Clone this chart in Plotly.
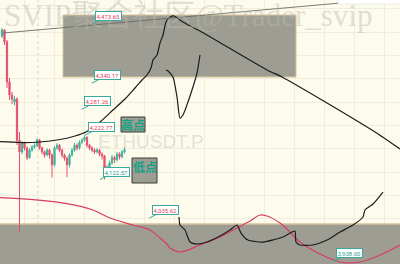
import plotly.graph_objects as go

# ---------------- data ----------------
bar_idx = list(range(50))
open_ = [4446.5, 4460.1, 4433.0, 4342.7, 4313.4, 4297.6, 4304.0, 4211.8,
         4184.7, 4205, 4194, 4172, 4189, 4196, 4199, 4212, 4194, 4185, 4178, 4189,
         4178, 4156, 4194, 4200, 4189, 4178, 4171, 4156, 4178, 4189, 4200, 4194,
         4207, 4212, 4218, 4200, 4194, 4189, 4185, 4189, 4180, 4176, 4150, 4140,
         4160, 4172, 4167, 4180, 4174, 4185]
high = [4464.6, 4462.3, 4437.5, 4351.7, 4320.1, 4311.0, 4308.0, 4229.8,
        4209, 4208, 4197, 4193, 4200, 4204, 4215, 4214, 4197, 4188, 4193, 4192,
        4181, 4198, 4205, 4203, 4192, 4181, 4174, 4182, 4194, 4205, 4204, 4211,
        4216, 4222.77, 4220, 4203, 4198, 4193, 4194, 4192, 4184, 4178, 4155, 4165,
        4178, 4176, 4185, 4184, 4189, 4195]
low = [4442.0, 4426.2, 4329.2, 4302.1, 4293.0, 4290.0, 4200.5, 4004.1,
       4180, 4188, 4166, 4169, 4185, 4192, 4196, 4190, 4180, 4172, 4175, 4170,
       4127, 4152, 4190, 4184, 4172, 4165, 4128, 4150, 4174, 4185, 4188, 4190,
       4203, 4208, 4195, 4189, 4184, 4180, 4182, 4175, 4168, 4122.57, 4130, 4136,
       4156, 4160, 4163, 4168, 4170, 4181]
close = [4460.1, 4433.0, 4342.7, 4313.4, 4304.3, 4304.3, 4211.8, 4184.7,
         4205, 4194, 4172, 4189, 4196, 4199, 4212, 4194, 4185, 4178, 4189, 4178,
         4156, 4194, 4200, 4189, 4178, 4171, 4156, 4178, 4189, 4200, 4194, 4207,
         4212, 4218, 4200, 4194, 4189, 4185, 4189, 4180, 4176, 4150, 4140, 4160,
         4172, 4167, 4180, 4174, 4185, 4190]

# drawn curves (bar index, price)
arc_x = [-0.8, 7.2, 15.2, 23.2, 29.2, 33.6, 39.2, 44.4, 49.2, 53.2, 56.0, 58.0, 59.6,
         60.4, 62.0, 63.2, 64.4, 65.6, 67.2, 68.8, 71.2, 75.2, 79.2, 106.0, 112.0,
         130.0, 149.2, 159.2]
arc_y = [4207.9, 4206.1, 4207.3, 4212.9, 4220.8, 4229.8, 4252.4, 4279.5, 4304.3,
         4329.2, 4347.2, 4358.5, 4374.3, 4392.4, 4403.6, 4430.7, 4448.8, 4478.1,
         4489.4, 4491.7, 4482.7, 4469.1, 4457.8, 4369.8, 4354.0, 4295.3, 4229.8, 4191.5]
dip_x = [65.6, 66.4, 68.4, 70.0, 71.2, 72.4, 74.4, 76.0, 78.0, 79.2]
dip_y = [4369.8, 4367.5, 4354.0, 4308.8, 4261.4, 4268.2, 4297.6, 4324.6, 4363.0, 4403.6]
low_x = [70.8, 71.2, 73.2, 75.2, 78.0, 82.0, 87.2, 91.2, 94.0, 95.6, 98.4, 104.4,
         112.4, 116.0, 117.2, 117.6, 119.2, 124.4, 130.0, 135.2, 140.4, 144.4, 145.2,
         148.4, 152.4]
low_y = [4038.0, 4019.9, 4008.6, 3981.5, 3977.0, 3981.5, 3995.1, 4008.6, 4019.9,
         4001.8, 3986.0, 3981.5, 3992.8, 4004.1, 4006.4, 3981.5, 3974.8, 3974.8,
         3986.0, 4004.1, 4019.9, 4038.0, 4053.8, 4067.3, 4094.4]
ma_x = [-0.8, 12.4, 26.0, 36.4, 43.2, 52.4, 59.2, 63.2, 66.0, 67.2, 71.2, 79.2, 87.2,
        94.0, 99.2, 103.2, 106.0, 111.2, 114.0, 119.2, 127.2, 135.2, 143.2, 151.2, 159.2]
ma_y = [4081.5, 4077.0, 4068.0, 4053.8, 4035.7, 4019.9, 4008.6, 3990.6, 3977.0,
        3968.0, 3959.0, 3974.8, 3992.8, 4013.1, 4028.9, 4042.5, 4040.2, 4024.4,
        4010.9, 3981.5, 3954.4, 3936.4, 3936.4, 3952.2, 3974.8]
trend_x = [0.4, 134.4]
trend_y = [4453.3, 4520.5]

# price labels
lbl_text = ["4,473.65", "4,340.17", "4,281.26", "4,222.77", "4,122.57", "4,035.62", "3,938.00"]
lbl_price = [4473.65, 4340.17, 4281.26, 4222.77, 4122.57, 4035.62, 3938.00]
lbl_bar = [36.0, 35.9, 31.9, 33.2, 39.2, 58.9, 132.5]
lbl_high = [True, True, True, True, False, True, False]

# zones (bar index / price)
zone_top = dict(x0=24.4, x1=117.6, y0=4354.0, y1=4493.9)
zone_bot = dict(x0=-5, x1=170, y0=4022.2, y1=3900)

X_RANGE = [-0.8, 159.2]
Y_RANGE = [3931.9, 4527.8]

UP = "#3DB39E"
DOWN = "#E3506E"
BG = "#FDFBEC"
BOX = "#9D9D93"

fig = go.Figure()

fig.add_trace(go.Candlestick(
    x=bar_idx, open=open_, high=high, low=low, close=close,
    increasing=dict(line=dict(color=UP, width=1), fillcolor=UP),
    decreasing=dict(line=dict(color=DOWN, width=1), fillcolor=DOWN),
    whiskerwidth=0, showlegend=False, hoverinfo="skip"))

fig.add_trace(go.Scatter(x=trend_x, y=trend_y, mode="lines",
                         line=dict(color="#6b6b66", width=0.9), showlegend=False))
fig.add_trace(go.Scatter(x=ma_x, y=ma_y, mode="lines",
                         line=dict(color="#D83D69", width=1.2, shape="spline"), showlegend=False))
for xs, ys in [(arc_x, arc_y), (dip_x, dip_y), (low_x, low_y)]:
    fig.add_trace(go.Scatter(x=xs, y=ys, mode="lines",
                             line=dict(color="#1c1c1c", width=1.2, shape="spline", smoothing=0.6),
                             showlegend=False))

shapes = [
    dict(type="rect", xref="x", yref="y", layer="between", fillcolor=BOX,
         line=dict(color="#D6C49A", width=1), **zone_top),
    dict(type="rect", xref="x", yref="y", layer="between", fillcolor=BOX,
         line=dict(color="#D6C49A", width=1.5), **zone_bot),
    dict(type="line", xref="x", yref="paper", x0=14.4, x1=14.4, y0=1 - 224 / 264, y1=1,
         layer="between", line=dict(color="#cfcabb", width=0.8, dash="dot")),
    dict(type="rect", xref="x", yref="y", x0=134.4, x1=160, y0=4518.8, y1=4530,
         fillcolor="white", line=dict(color="#dddddd", width=0.5), layer="between"),
    # 高点 / 低点 boxes
    dict(type="rect", xref="x", yref="y", x0=47.6, x1=57.2, y0=4229.8, y1=4263.7,
         fillcolor=BOX, line=dict(color="#3c3c3c", width=1), layer="above"),
    dict(type="rect", xref="x", yref="y", x0=52.0, x1=62.0, y0=4114.7, y1=4171.1,
         fillcolor=BOX, line=dict(color="#3c3c3c", width=1), layer="above"),
]

annotations = [
    dict(text="SVIP聚合社区@Trader_svip", xref="paper", yref="paper", x=0.005, y=1 - 16 / 264,
         xanchor="left", yanchor="middle", showarrow=False,
         font=dict(family="Liberation Serif, Noto Sans CJK SC", size=31, color="rgba(185,185,175,0.45)")),
    dict(text="ETHUSDT.P", xref="paper", yref="paper", x=151 / 400, y=1 - 141 / 264,
         xanchor="center", yanchor="middle", showarrow=False,
         font=dict(family="Liberation Sans", size=19, color="rgba(195,193,180,0.45)")),
    dict(text="<b>高点</b>", xref="x", yref="y", x=52.4, y=4246.7, showarrow=False,
         font=dict(family="Noto Sans CJK SC", size=12, color="#13A284")),
    dict(text="<b>低点</b>", xref="x", yref="y", x=57.0, y=4153.1, showarrow=False,
         font=dict(family="Noto Sans CJK SC", size=12, color="#13A284")),
]
for t, p, b, hi in zip(lbl_text, lbl_price, lbl_bar, lbl_high):
    annotations.append(dict(
        text=t, x=b, y=p, xref="x", yref="y", showarrow=True, arrowhead=0,
        arrowwidth=1, arrowcolor="#3AA89B", ax=16, ay=-8, standoff=0,
        bgcolor="white", bordercolor="#3AA89B", borderwidth=1, borderpad=0.5,
        font=dict(family="Roboto", size=6, color="#E0405A" if hi else "#2A9D8F")))

fig.update_layout(
    width=400, height=264, margin=dict(l=0, r=0, t=0, b=0),
    paper_bgcolor=BG, plot_bgcolor=BG,
    shapes=shapes, annotations=annotations,
    xaxis=dict(range=X_RANGE, showticklabels=False, zeroline=False, rangeslider=dict(visible=False),
               showgrid=True, gridcolor="#F1EDDA", gridwidth=0.6, dtick=12, tick0=8.8),
    yaxis=dict(range=Y_RANGE, showticklabels=False, zeroline=False,
               showgrid=True, gridcolor="#F1EDDA", gridwidth=0.6, dtick=52.6, tick0=4192.1),
)

fig.write_html("out.html")
